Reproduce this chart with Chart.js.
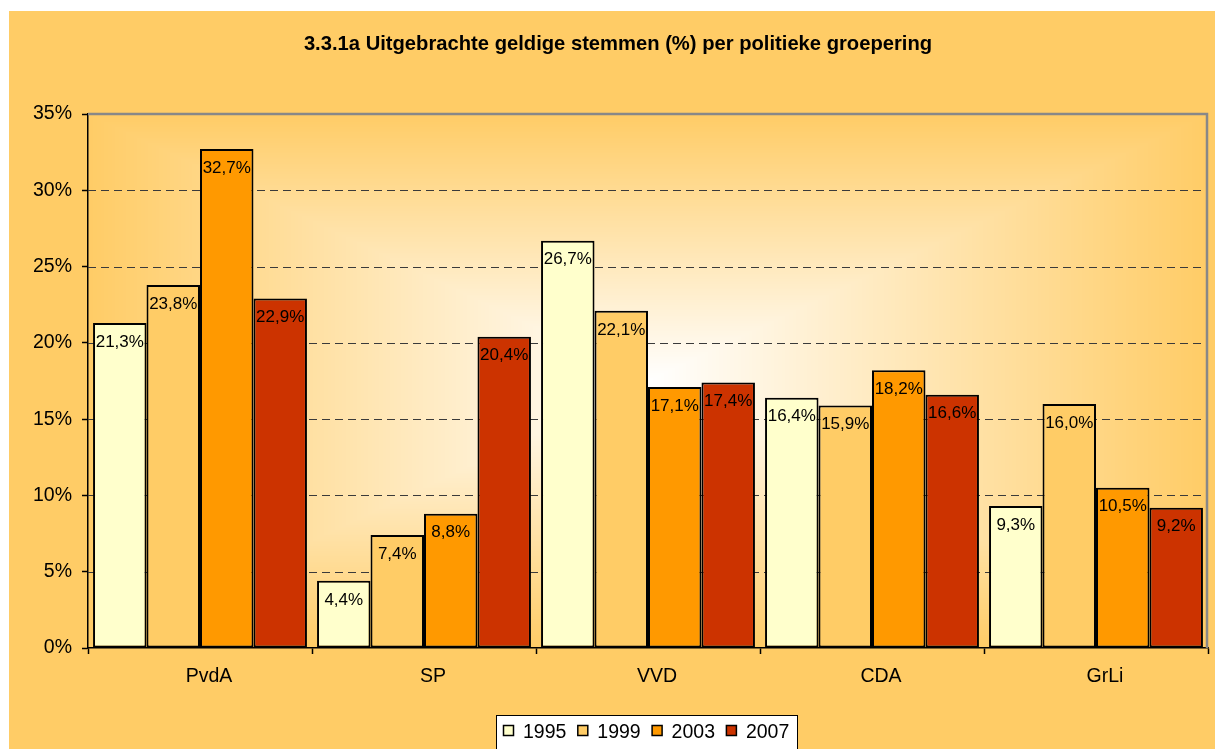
<!DOCTYPE html>
<html>
<head>
<meta charset="utf-8">
<script src="https://cdn.jsdelivr.net/npm/chart.js@4/dist/chart.umd.min.js"></script>
<style>
  html, body { margin: 0; padding: 0; background: #fff; }
  canvas { display: block; }
</style>
</head>
<body>
<canvas id="c" width="1215" height="749"></canvas>
<script>
const categories = ['PvdA', 'SP', 'VVD', 'CDA', 'GrLi'];
const years = ['1995', '1999', '2003', '2007'];
const values1995 = [21.3, 4.4, 26.7, 16.4, 9.3];
const values1999 = [23.8, 7.4, 22.1, 15.9, 16.0];
const values2003 = [32.7, 8.8, 17.1, 18.2, 10.5];
const values2007 = [22.9, 20.4, 17.4, 16.6, 9.2];
const yTicks = [0, 5, 10, 15, 20, 25, 30, 35];
const titleText = '3.3.1a Uitgebrachte geldige stemmen (%) per politieke groepering';
const colors = ['#FFFFCC', '#FFCC66', '#FF9900', '#CC3300'];

const FONT = 'Arial, "Liberation Sans", sans-serif';
const seriesValues = [values1995, values1999, values2003, values2007];

const fmt = v => v.toFixed(1).replace('.', ',') + '%';

const bgPlugin = {
  id: 'bg',
  beforeDraw(chart) {
    const ctx = chart.ctx;
    const W = chart.width, H = chart.height;
    ctx.save();
    ctx.fillStyle = '#ffffff';
    ctx.fillRect(0, 0, W, H);
    ctx.fillStyle = '#FFCC66';
    ctx.fillRect(9, 11, W - 9, H - 11);
    // rectangular "from center" gradient in plot area
    const a = chart.chartArea;
    const L = Math.round(a.left), T = Math.round(a.top);
    const w = Math.round(a.right) - L, h = Math.round(a.bottom) - T;
    const img = ctx.createImageData(w, h);
    const cx = w / 2, cy = h / 2;
    const c0 = [255, 255, 255], c1 = [255, 204, 102];
    for (let y = 0; y < h; y++) {
      for (let x = 0; x < w; x++) {
        const t = Math.min(1, Math.max(Math.abs(x + 0.5 - cx) / cx, Math.abs(y + 0.5 - cy) / cy));
        const i = (y * w + x) * 4;
        img.data[i] = c0[0] + (c1[0] - c0[0]) * t;
        img.data[i + 1] = c0[1] + (c1[1] - c0[1]) * t;
        img.data[i + 2] = c0[2] + (c1[2] - c0[2]) * t;
        img.data[i + 3] = 255;
      }
    }
    ctx.putImageData(img, L, T);
    // title
    ctx.fillStyle = '#000';
    ctx.font = 'bold 20.2px ' + FONT;
    ctx.textAlign = 'center';
    ctx.textBaseline = 'alphabetic';
    ctx.fillText(titleText, 618, 50);
    // legend
    ctx.fillStyle = '#fff';
    ctx.fillRect(496.5, 715.5, 301, 40);
    ctx.strokeStyle = '#000';
    ctx.lineWidth = 1;
    ctx.strokeRect(496.5, 715.5, 301, 40);
    ctx.font = '19.5px ' + FONT;
    ctx.textAlign = 'left';
    years.forEach((yr, i) => {
      const sx = 503.5 + i * 74.3;
      ctx.fillStyle = colors[i];
      ctx.fillRect(sx, 725.5, 10, 10);
      ctx.lineWidth = 1.5;
      ctx.strokeStyle = '#000';
      ctx.strokeRect(sx, 725.5, 10, 10);
      ctx.fillStyle = '#000';
      ctx.fillText(yr, sx + 19.5, 738);
    });
    ctx.restore();
  },
  beforeDatasetsDraw(chart) {
    const ctx = chart.ctx;
    const a = chart.chartArea;
    const ys = chart.scales.y;
    ctx.save();
    ctx.strokeStyle = '#3a3a3a';
    ctx.lineWidth = 1;
    ctx.setLineDash([8, 5]);
    yTicks.forEach(v => {
      if (v === 0 || v === 35) return;
      const py = Math.round(ys.getPixelForValue(v)) + 0.5;
      ctx.beginPath();
      ctx.moveTo(a.left, py);
      ctx.lineTo(a.right, py);
      ctx.stroke();
    });
    ctx.setLineDash([]);
    ctx.strokeStyle = '#888888';
    ctx.lineWidth = 2.5;
    const top = ys.getPixelForValue(35);
    ctx.beginPath();
    ctx.moveTo(a.left, top);
    ctx.lineTo(a.right - 1, top);
    ctx.lineTo(a.right - 1, a.bottom);
    ctx.stroke();
    ctx.restore();
  },
  afterDatasetsDraw(chart) {
    const ctx = chart.ctx;
    ctx.save();
    ctx.fillStyle = '#000';
    ctx.font = '17px ' + FONT;
    ctx.textAlign = 'center';
    ctx.textBaseline = 'middle';
    chart.data.datasets.forEach((ds, di) => {
      const meta = chart.getDatasetMeta(di);
      meta.data.forEach((bar, i) => {
        ctx.fillText(fmt(ds.data[i]), bar.x, bar.y + 19);
      });
    });
    ctx.restore();
  }
};

new Chart(document.getElementById('c'), {
  type: 'bar',
  data: {
    labels: categories,
    datasets: years.map((yr, i) => ({
      label: yr,
      data: seriesValues[i],
      backgroundColor: colors[i],
      borderColor: '#000',
      borderWidth: 2,
      borderSkipped: false,
      barPercentage: 1.0,
      categoryPercentage: 0.955
    }))
  },
  options: {
    responsive: false,
    devicePixelRatio: 1,
    animation: false,
    layout: { padding: { left: 9, right: 7, top: 114, bottom: 51 } },
    plugins: {
      legend: { display: false },
      title: { display: false },
      tooltip: { enabled: false }
    },
    scales: {
      x: {
        afterFit: s => { s.height = 50; },
        grid: { display: true, offset: true, drawOnChartArea: false, tickLength: 6, tickColor: '#000', tickWidth: 1.5 },
        border: { display: true, color: '#000', width: 1.5 },
        ticks: { color: '#000', font: { family: FONT, size: 19.5 }, padding: 11, labelOffset: 9, maxRotation: 0 }
      },
      y: {
        min: 0,
        max: 35,
        afterFit: s => { s.width = 79; },
        afterBuildTicks: s => { s.ticks = yTicks.map(v => ({ value: v })); },
        grid: { display: true, drawOnChartArea: false, tickLength: 6, tickColor: '#000', tickWidth: 1.5 },
        border: { display: true, color: '#000', width: 1.5 },
        ticks: { color: '#000', font: { family: FONT, size: 19.5 }, padding: 10, callback: v => v + '%' }
      }
    }
  },
  plugins: [bgPlugin]
});
</script>
</body>
</html>
